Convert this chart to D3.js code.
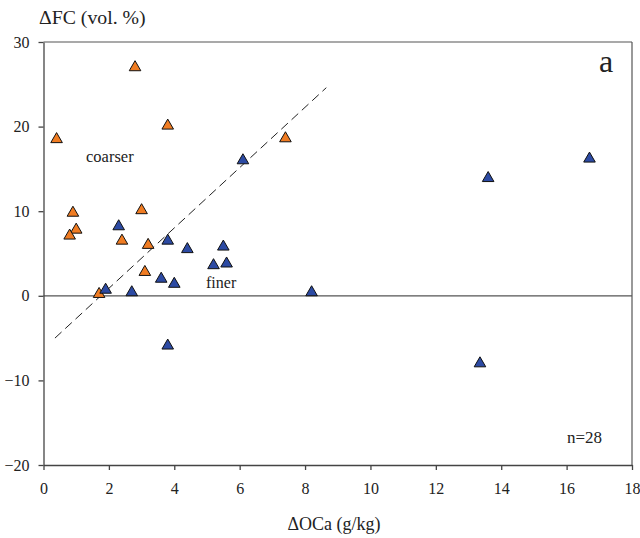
<!DOCTYPE html>
<html><head><meta charset="utf-8">
<script src="https://cdn.jsdelivr.net/npm/d3@7"></script>
<style>body{margin:0;background:#fff}svg{display:block}</style>
</head><body><svg id="c" width="640" height="538"></svg>
<script>
const coarserX = [0.4, 2.8, 3.8, 7.4, 0.9, 1.0, 0.8, 3.0, 2.4, 3.2, 3.1, 1.7];
const coarserY = [18.5, 27.0, 20.1, 18.6, 9.8, 7.8, 7.1, 10.1, 6.5, 6.0, 2.8, 0.2];
const finerX = [6.1, 13.6, 16.7, 2.3, 3.8, 4.4, 5.5, 5.2, 5.6, 3.6, 4.0, 1.9, 2.7, 3.8, 8.2, 13.35];
const finerY = [16.0, 13.9, 16.2, 8.2, 6.5, 5.5, 5.8, 3.6, 3.8, 2.0, 1.4, 0.7, 0.4, -5.9, 0.4, -8.0];
const lineX = [0.35, 8.65];
const lineY = [-5.0, 24.6];
const xTicks = [0, 2, 4, 6, 8, 10, 12, 14, 16, 18];
const yTicks = [-20, -10, 0, 10, 20, 30];

const FONT = "'Liberation Serif'";
const svg = d3.select("#c");
const L = 43.5, R = 632, T = 42, B = 465;
const x = d3.scaleLinear().domain([0, 18]).range([L, R]);
const y = d3.scaleLinear().domain([-20, 30]).range([B, T]);

svg.append("line").attr("x1", L).attr("x2", R).attr("y1", T).attr("y2", T).attr("stroke", "#555").attr("stroke-width", 1.2);
svg.append("line").attr("x1", R).attr("x2", R).attr("y1", T).attr("y2", B).attr("stroke", "#555").attr("stroke-width", 1.2);
svg.append("line").attr("x1", L).attr("x2", R).attr("y1", y(0)).attr("y2", y(0)).attr("stroke", "#555").attr("stroke-width", 1.2);

const xAxis = svg.append("g").attr("transform", `translate(0,${B})`)
  .call(d3.axisBottom(x).tickValues(xTicks).tickSize(5).tickPadding(13).tickSizeOuter(0));
const yAxis = svg.append("g").attr("transform", `translate(${L},0)`)
  .call(d3.axisLeft(y).tickValues(yTicks).tickSize(5).tickPadding(9).tickSizeOuter(0));
[xAxis, yAxis].forEach(g => {
  g.attr("font-family", null).attr("font-size", null);
  g.selectAll("path,line").attr("stroke", "#444").attr("stroke-width", 1.3);
  g.selectAll("text").style("font-family", FONT).style("font-size", "16px").attr("fill", "#222");
});

svg.append("line").attr("x1", x(lineX[0])).attr("y1", y(lineY[0])).attr("x2", x(lineX[1])).attr("y2", y(lineY[1]))
  .attr("stroke", "#222").attr("stroke-width", 1).attr("stroke-dasharray", "9,5");

const tri = d3.symbol().type(d3.symbolTriangle).size(58);
svg.append("g").selectAll("path").data(coarserX.map((v, i) => [v, coarserY[i]])).join("path")
  .attr("d", tri).attr("transform", d => `translate(${x(d[0])},${y(d[1])})`)
  .attr("fill", "#F07C22").attr("stroke", "#111").attr("stroke-width", 1);
svg.append("g").selectAll("path").data(finerX.map((v, i) => [v, finerY[i]])).join("path")
  .attr("d", tri).attr("transform", d => `translate(${x(d[0])},${y(d[1])})`)
  .attr("fill", "#2C4AA3").attr("stroke", "#111").attr("stroke-width", 1);

function label(tx, ty, s, size, anchor) {
  svg.append("text").attr("x", tx).attr("y", ty).attr("text-anchor", anchor || "start")
    .style("font-family", FONT).style("font-size", size + "px").attr("fill", "#222").text(s);
}
label(39, 24, "ΔFC (vol. %)", 19.8);
label(334, 530, "ΔOCa (g/kg)", 18, "middle");
label(86, 162, "coarser", 16.5);
label(206, 288, "finer", 16);
label(599, 72, "a", 32);
label(567, 443, "n=28", 17);
</script></body></html>
